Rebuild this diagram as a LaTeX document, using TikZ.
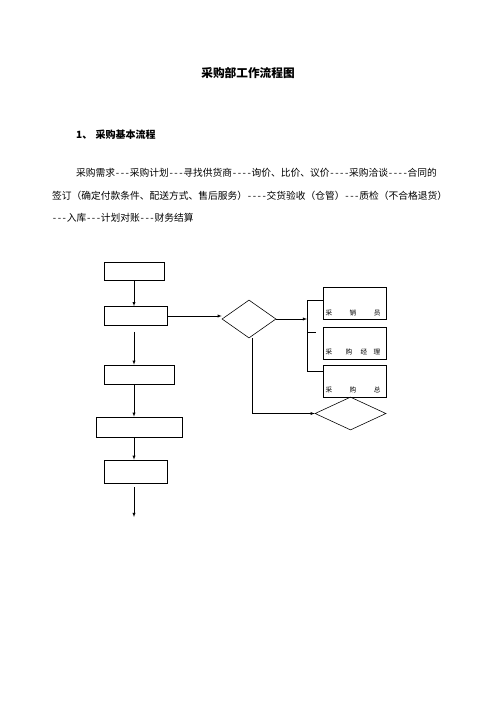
\documentclass[tikz,border=0pt]{standalone}
\usepackage{fontspec}
\setmainfont{Noto Sans CJK SC}
\usetikzlibrary{shapes.geometric}

\newcommand{\hy}{\makebox[.5em]{-}}

\tikzstyle{box}=[draw, line width=0.7pt, rectangle, inner sep=0pt]
\tikzstyle{choice}=[draw, line width=0.7pt, diamond, inner sep=0pt]
\tikzstyle{msg}=[-latex, line width=0.7pt]
\tikzstyle{link}=[line width=0.7pt]
\tikzstyle{txt}=[inner sep=0pt, anchor=west, font=\fontsize{11.7}{13}\selectfont]
\tikzstyle{tag}=[inner sep=0pt, font=\fontsize{8}{9}\selectfont]

\begin{document}
\begin{tikzpicture}[x=1.2pt, y=-1.2pt]
    \useasboundingbox (0,0) rectangle (496,702);
    % heading and text
    \node[inner sep=0pt, font=\fontsize{14}{16}\selectfont\bfseries] (title) at (248,73) {采购部工作流程图};
    \node[txt, font=\fontsize{12}{14}\selectfont\bfseries] (head) at (76,135) {1、\hspace{4pt}采购基本流程};
    \node[txt] (line1) at (76,173) {采购需求\hy\hy\hy 采购计划\hy\hy\hy 寻找供货商\hy\hy\hy\hy 询价、比价、议价\hy\hy\hy\hy 采购洽谈\hy\hy\hy\hy 合同的};
    \node[txt] (line2) at (52,196) {签订（确定付款条件、配送方式、售后服务）\hy\hy\hy\hy 交货验收（仓管）\hy\hy\hy 质检（不合格退货）};
    \node[txt] (line3) at (52,218) {\hy\hy\hy 入库\hy\hy\hy 计划对账\hy\hy\hy 财务结算};
    % left column
    \node[box, minimum width=72pt, minimum height=21.6pt] (step1) at (134,271) {};
    \node[box, minimum width=75.6pt, minimum height=22.8pt] (step2) at (135.5,316) {};
    \node[box, minimum width=84pt, minimum height=22.8pt] (step3) at (139,374.5) {};
    \node[box, minimum width=103.2pt, minimum height=24pt] (step4) at (139.5,427) {};
    \node[box, minimum width=75.6pt, minimum height=27.6pt] (step5) at (135.5,471.5) {};
    \coordinate (end) at (134,517);
    % decisions
    \node[choice, minimum width=64.8pt, minimum height=45.6pt] (check1) at (249,319) {};
    \node[choice, minimum width=85.2pt, minimum height=39.6pt] (check2) at (350.5,413.5) {};
    % approvers
    \node[box, minimum width=75.6pt, minimum height=38.4pt] (staff) at (354.5,303) {};
    \node[box, minimum width=75.6pt, minimum height=38.4pt] (manager) at (354.5,343) {};
    \node[box, minimum width=75.6pt, minimum height=38.4pt] (director) at (354.5,381) {};
    \node[tag] (staffname) at (353,313) {\makebox[66pt][s]{采 销 员}};
    \node[tag] (managername) at (353,352) {采\hspace{16pt}购\hspace{10pt}经\hspace{7.6pt}理};
    \node[tag] (directorname) at (353,390) {\makebox[66pt][s]{采 购 总}};
    \coordinate (jtop) at (307,300);
    \coordinate (jmid) at (307,319);
    \coordinate (jtick) at (307,332);
    \coordinate (jbot) at (307,371);
    % connectors
    \draw[msg] (step1.south) -- (step1.south |- step2.north);
    \draw[msg, shorten <=7.2pt] (step1.south |- step2.south) -- (step1.south |- step3.north);
    \draw[msg] (step1.south |- step3.south) -- (step1.south |- step4.north);
    \draw[msg] (step1.south |- step4.south) -- (step1.south |- step5.north);
    \draw[msg, shorten <=4.8pt] (step1.south |- step5.south) -- (end);
    \draw[msg] (step2.east) -- (step2.east -| check1.west);
    \draw[msg] (check1.east) -- (jmid);
    \draw[link] (jtop -| staff.west) -- (jtop) -- (jbot) -- (jbot -| director.west);
    \draw[link] (jtick) -- ++(10.8pt,0);
    \draw[msg] ([xshift=3.6pt]check1.south) |- (check2.west);
\end{tikzpicture}
\end{document}
